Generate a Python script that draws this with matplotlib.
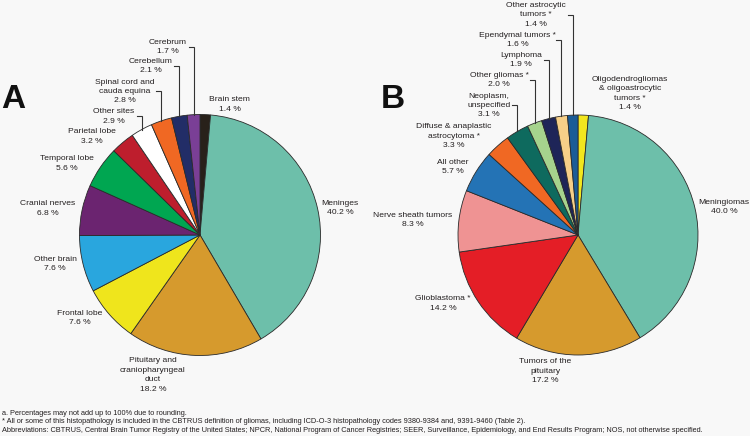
import matplotlib
matplotlib.use('Agg')
import matplotlib.pyplot as plt
import numpy as np

W, H = 750, 436

# ---- Panel A data (clockwise from 12 o'clock) ----
a_labels = ['Brain stem', 'Meninges', 'Pituitary and\ncraniopharyngeal\nduct', 'Frontal lobe',
            'Other brain', 'Cranial nerves', 'Temporal lobe', 'Parietal lobe', 'Other sites',
            'Spinal cord and\ncauda equina', 'Cerebellum', 'Cerebrum']
a_values = [1.4, 40.2, 18.2, 7.6, 7.6, 6.8, 5.6, 3.2, 2.9, 2.8, 2.1, 1.7]
a_colors = ['#28211a', '#6dbfaa', '#d69a2d', '#efe51c', '#29a6de', '#6b2470', '#00a651',
            '#be1e2d', '#ffffff', '#f06823', '#222d67', '#7a3f96']
a_leader = [False] * 8 + [True] * 4
a_label_pos = [(229.5, 104.5), (340, 208), (153, 375), (80, 318), (55, 264), (48, 208.5),
               (67, 163.5), (92, 136.5), (114, 116.5), (125, 91.5), (151, 66), (168, 47)]

# ---- Panel B data ----
b_labels = ['Oligodendrogliomas\n& oligoastrocytic\ntumors *', 'Meningiomas', 'Tumors of the\npituitary',
            'Glioblastoma *', 'Nerve sheath tumors', 'All other', 'Diffuse & anaplastic\nastrocytoma *',
            'Neoplasm,\nunspecified', 'Other gliomas *', 'Lymphoma', 'Ependymal tumors *',
            'Other astrocytic\ntumors *']
b_values = [1.4, 40.0, 17.2, 14.2, 8.3, 5.7, 3.3, 3.1, 2.0, 1.9, 1.6, 1.4]
b_colors = ['#f2e61e', '#6dbfaa', '#d69a2d', '#e41e26', '#ef9393', '#2473b5', '#f06823',
            '#0e6a5e', '#a6d38d', '#1e2558', '#f6cf88', '#1b5c97']
b_leader = [False] * 7 + [True] * 5
b_label_pos = [(630, 93.5), (724, 207), (545, 371), (443, 303.5), (413, 220), (453, 167),
               (454, 136), (489, 105.5), (499, 80), (521, 60), (517.5, 40), (536, 15)]

footnotes = [
    "a. Percentages may not add up to 100% due to rounding.",
    "* All or some of this histopathology is included in the CBTRUS definition of gliomas, including ICD-O-3 histopathology codes 9380-9384 and, 9391-9460 (Table 2).",
    "Abbreviations: CBTRUS, Central Brain Tumor Registry of the United States; NPCR, National Program of Cancer Registries; SEER, Surveillance, Epidemiology, and End Results Program; NOS, not otherwise specified.",
]

BG = '#f8f8f8'
TXT = '#231f20'
FONT = ['Liberation Sans', 'DejaVu Sans']

fig = plt.figure(figsize=(W / 100, H / 100), dpi=100, facecolor=BG)
ax = fig.add_axes([0, 0, 1, 1])
ax.set_facecolor(BG)


def Y(y):
    return H - y


def draw_panel(values, labels, colors, leaders, label_pos, cx, cy, r):
    ax.pie(values, colors=colors, startangle=90, counterclock=False,
           center=(cx, Y(cy)), radius=r,
           wedgeprops=dict(edgecolor='#2a2a2a', linewidth=0.6))
    total = float(sum(values))
    cum = 0.0
    for v, lab, lead, (lx, ly) in zip(values, labels, leaders, label_pos):
        ax.text(lx, Y(ly), f"{lab}\n{v:.1f} %", ha='center', va='center',
                fontsize=6.1, family=FONT, color=TXT, linespacing=1.5, multialignment='center')
        if lead:
            th = np.radians(360.0 * (cum + v / 2) / total)
            ex = cx + r * np.sin(th)
            ey = Y(cy) + r * np.cos(th)
            ax.plot([ex - 5, ex, ex], [Y(ly), Y(ly), ey], color='#333333', lw=0.8,
                    solid_joinstyle='miter')
        cum += v


draw_panel(a_values, a_labels, a_colors, a_leader, a_label_pos, 200, 235, 120.5)
draw_panel(b_values, b_labels, b_colors, b_leader, b_label_pos, 578, 235, 120)

ax.text(13, Y(100), 'A', ha='center', va='center', fontsize=24, fontweight='bold',
        family=FONT, color='#111111')
ax.text(393, Y(100), 'B', ha='center', va='center', fontsize=24, fontweight='bold',
        family=FONT, color='#111111')

for y, t in zip([413, 421.5, 430], footnotes):
    ax.text(2, Y(y), t, ha='left', va='center', fontsize=5.32,
            family=['Liberation Sans Narrow', 'Liberation Sans', 'DejaVu Sans'], color=TXT)

ax.set_xlim(0, W)
ax.set_ylim(0, H)
ax.set_aspect('auto')
ax.axis('off')

fig.savefig('out.png', dpi=100, facecolor=BG)
